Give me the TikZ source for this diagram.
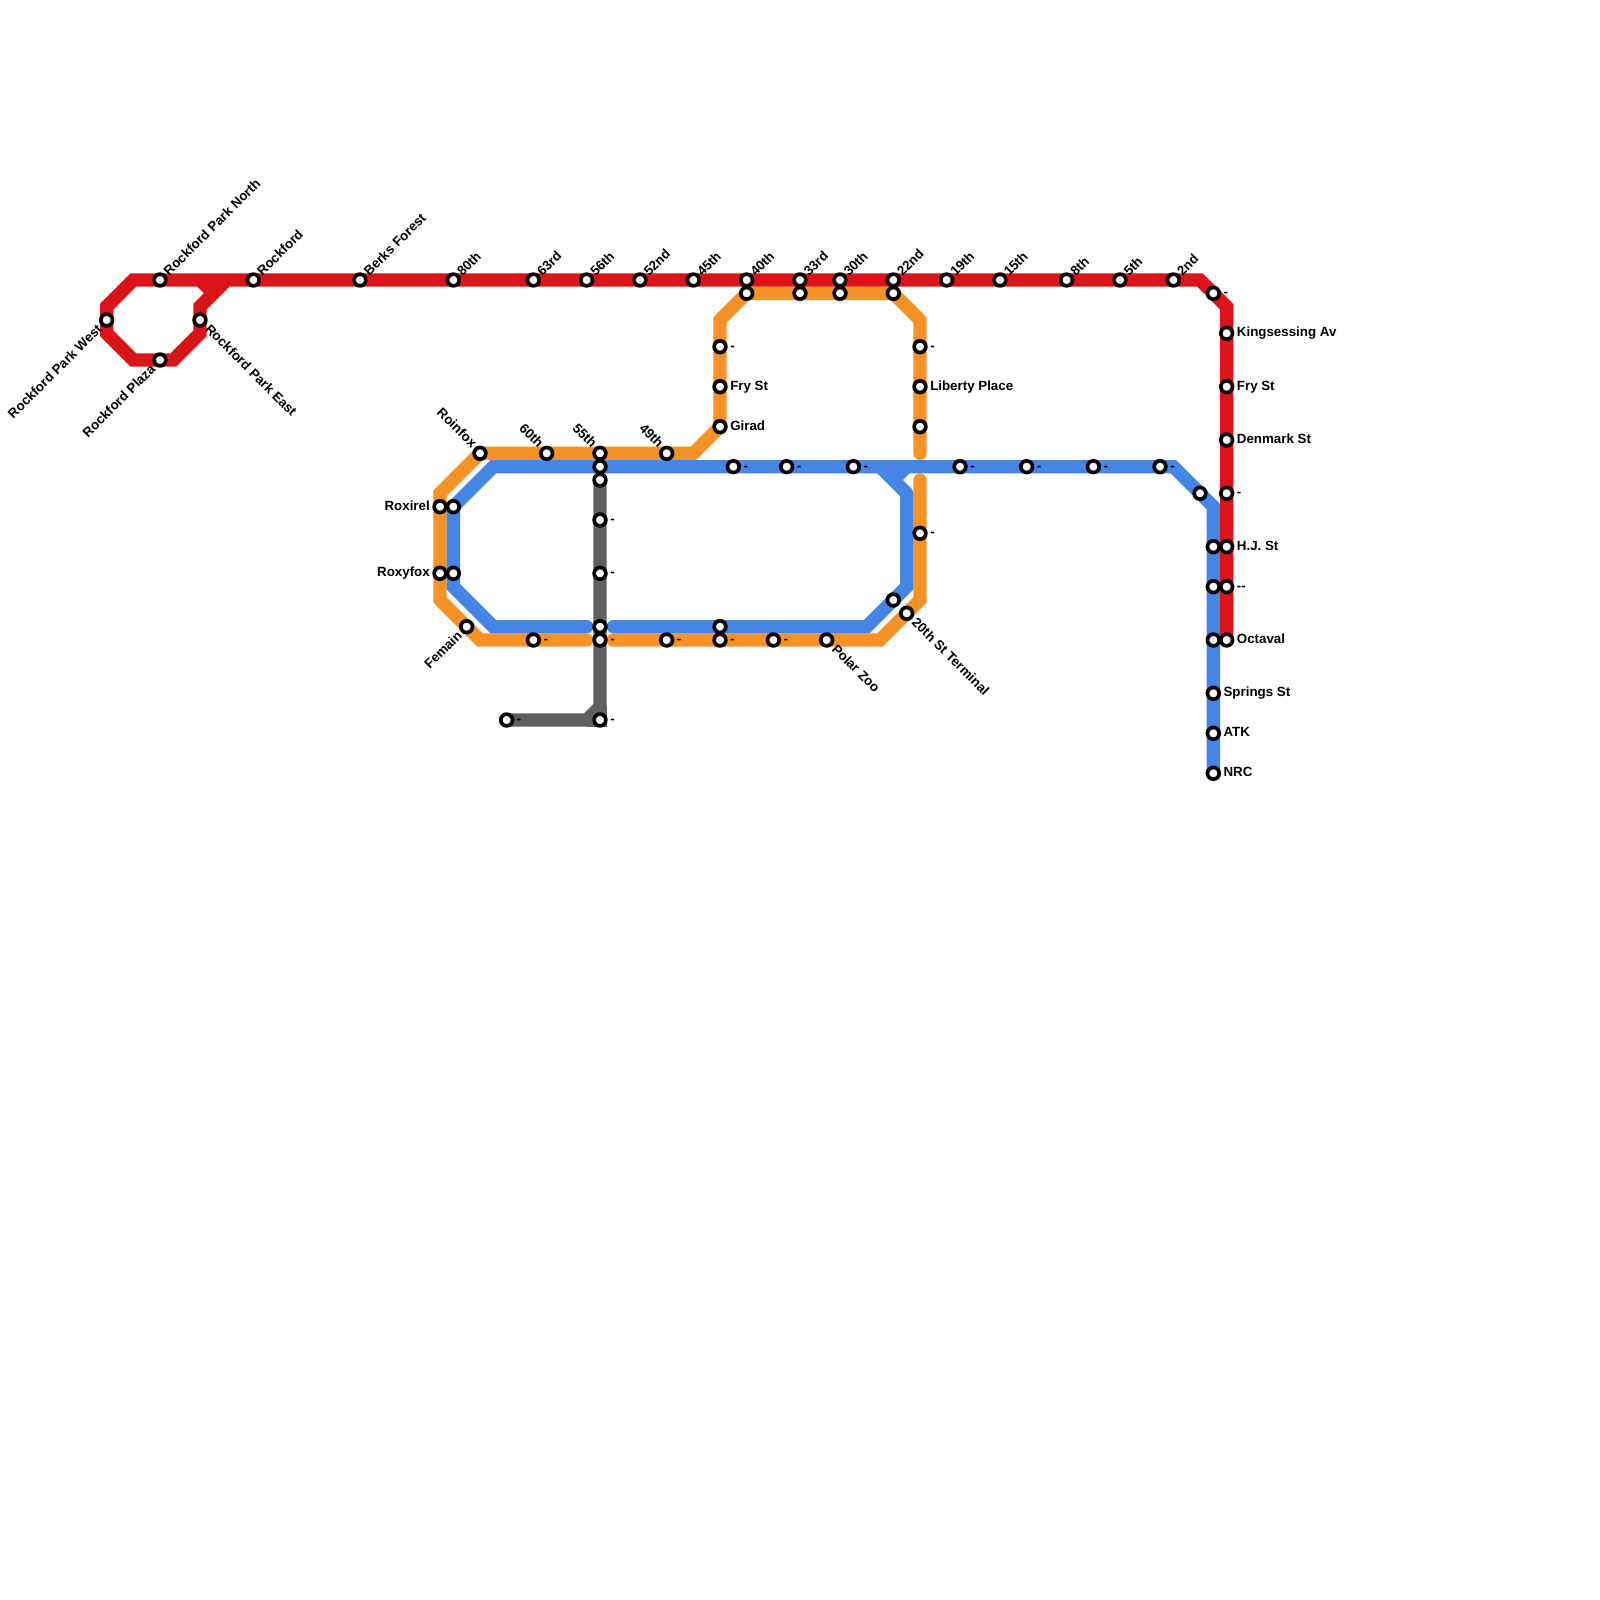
\documentclass[tikz,border=0pt]{standalone}
\usepackage{fontspec}
\setmainfont{Liberation Sans}
\usepackage{tikz}
\usetikzlibrary{positioning,calc}
\pgfdeclarelayer{lines}
\pgfsetlayers{lines,main}
\definecolor{redline}{HTML}{DB1419}
\definecolor{orangeline}{HTML}{F79226}
\definecolor{blueline}{HTML}{4585E6}
\definecolor{grayline}{HTML}{606060}
\tikzset{
  route/.style={line width=7.11pt,line cap=round,miter limit=10},
  stub/.style={line width=7.11pt,line cap=butt},
  station/.style={circle,draw=black,fill=white,line width=1.95pt,inner sep=0pt,minimum size=2.2mm},
  lbl/.style={font=\fontsize{7.11}{8}\selectfont\bfseries,inner sep=0pt,text=black,text height=5.1pt,text depth=0pt},
  lblE/.style={lbl,xshift=1.85mm,yshift=0.25mm,anchor=west},
  lblW/.style={lbl,xshift=-1.85mm,yshift=0.25mm,anchor=east},
  lblNE/.style={lbl,xshift=1.05mm,yshift=1.2mm,rotate=45,anchor=west},
  lblNW/.style={lbl,xshift=-0.95mm,yshift=1.5mm,rotate=-45,anchor=east},
  lblSW/.style={lbl,xshift=-1.3mm,yshift=-1.2mm,rotate=45,anchor=east},
  lblSE/.style={lbl,xshift=1.4mm,yshift=-1.2mm,rotate=-45,anchor=west}
}
\begin{document}
\begin{tikzpicture}[x=0.25cm,y=-0.25cm]
  \useasboundingbox (0,0) rectangle (120,120);
  % red stations
  \foreach \n/\x/\y/\pos/\txt in {
    r1/8/24/SW/Rockford Park West,r2/12/21/NE/Rockford Park North,r3/12/27/SW/Rockford Plaza,
    r4/15/24/SE/Rockford Park East,r5/19/21/NE/Rockford,r6/27/21/NE/Berks Forest,
    r7/34/21/NE/80th,r8/40/21/NE/63rd,r9/44/21/NE/56th,r10/48/21/NE/52nd,r11/52/21/NE/45th,
    r12/56/21/NE/40th,r13/60/21/NE/33rd,r14/63/21/NE/30th,r15/67/21/NE/22nd,r16/71/21/NE/19th,
    r17/75/21/NE/15th,r18/80/21/NE/8th,r19/84/21/NE/5th,r20/88/21/NE/2nd,r21/91/22/E/-,
    r22/92/25/E/Kingsessing Av,r23/92/29/E/Fry St,r24/92/33/E/Denmark St,r25/92/37/E/-,
    r26/92/41/E/H.J. St,r27/92/44/E/-{}-,r28/92/48/E/Octaval,
  % orange stations
    o1/54/26/E/-,o2/54/29/E/Fry St,o3/54/32/E/Girad,o4/69/26/E/-,o5/69/29/E/Liberty Place,
    o6/69/40/E/-,o7/68/46/SE/20th St Terminal,o8/62/48/SE/Polar Zoo,o9/58/48/E/-,o10/54/48/E/-,
    o11/50/48/E/-,o12/45/48/E/-,o13/40/48/E/-,o14/35/47/SW/Femain,o15/33/43/W/Roxyfox,
    o16/33/38/W/Roxirel,o17/36/34/NW/Roinfox,o18/41/34/NW/60th,o19/45/34/NW/55th,o20/50/34/NW/49th,
  % blue and grey stations
    b1/55/35/E/-,b2/59/35/E/-,b3/64/35/E/-,b4/72/35/E/-,b5/77/35/E/-,b6/82/35/E/-,b7/87/35/E/-,
    b8/91/52/E/Springs St,b9/91/55/E/ATK,b10/91/58/E/NRC,
    g1/45/39/E/-,g2/45/43/E/-,g3/45/54/E/-,g4/38/54/E/-}{%
    \node[station] (\n) at (\x,\y) {};
    \node[lbl\pos] (\n-l) at (\n) {\txt};
  }
  \foreach \n/\x/\y in {o21/56/22,o22/60/22,o23/63/22,o24/67/22,o25/69/32,
    b11/34/38,b12/34/43,b13/45/35,b14/90/37,b15/91/41,b16/91/44,b17/91/48,b18/67/45,b19/54/47,b20/45/47,
    g5/45/36}{%
    \node[station] (\n) at (\x,\y) {};
  }
  % corners and free ends
  \foreach \n/\x/\y in {ra/17/21,rb/15/23,rc/15/25,rd/13/27,re/10/27,rf/8/25,rg/8/23,rh/10/21,ri/90/21,rj/92/23,
    rk/15/21,rl/16/22,
    oa/44/48,ob/36/48,oc/33/45,od/33/37,oe/52/34,of/54/24,og/67/22,oh/69/24,oi/69/34,
    oj/46/48,ok/66/48,ol/69/45,om/69/36,
    ba/44/47,bb/37/47,bc/34/44,bd/37/35,be/88/35,bf/91/38,
    bg/46/47,bh/65/47,bi/68/44,bj/68/37,bk/66/35,bl/68/35,bm/67/36,
    ga/45/53,gb/44/54}{%
    \coordinate (\n) at (\x,\y);
  }
  \begin{pgfonlayer}{lines}
    \draw[route,orangeline] (oa) -- (ob) -- (oc) -- (od) -- (o17.center) -- (oe) -- (o3.center) -- (of)
      -- (o21.center) -- (og) -- (oh) -- (oi);
    \draw[route,orangeline] (oj) -- (ok) -- (ol) -- (om);
    \draw[route,grayline] (g5.center) -- (ga) -- (gb) -- (g4.center);
    \draw[stub,grayline] (ga) -- (g3.center) -- (gb);
    \draw[route,blueline] (ba) -- (bb) -- (bc) -- (b11.center) -- (bd) -- (be) -- (bf) -- (b10.center);
    \draw[route,blueline] (bg) -- (bh) -- (bi) -- (bj);
    \draw[stub,blueline] (bj) -- (bk);
    \draw[stub,blueline] (bl) -- (bm);
    \draw[route,redline,line cap=butt] (ra) -- (rb) -- (rc) -- (rd) -- (re) -- (rf) -- (rg) -- (rh) -- (ri) -- (rj) -- (r28.center);
    \draw[stub,redline] (rk) -- (rl);
  \end{pgfonlayer}
\end{tikzpicture}
\end{document}
